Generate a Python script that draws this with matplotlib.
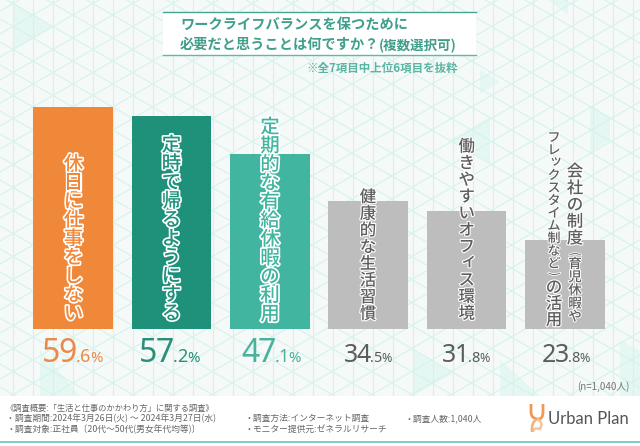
import numpy as np
import matplotlib
matplotlib.use('Agg')
import matplotlib.pyplot as plt
import matplotlib.patheffects as pe
from matplotlib.collections import LineCollection
from matplotlib.patches import Rectangle, PathPatch, Polygon
from matplotlib.path import Path

plt.rcParams['font.family'] = ['Noto Sans CJK JP', 'DejaVu Sans']

W, H = 640, 446
PX = 0.72  # px -> pt at dpi 100

values = [59.6, 57.2, 47.1, 34.5, 31.8, 23.8]
bar_colors = ['#f0883a', '#1f917b', '#42b5a0', '#bdbdbd', '#bdbdbd', '#bdbdbd']
value_colors = ['#e98b48', '#2a8f7a', '#48b29c', '#5c5c5c', '#5c5c5c', '#5c5c5c']
label_colors = ['#f0883a', '#1f917b', '#42b5a0', '#5e5e5e', '#5e5e5e', '#5e5e5e']
labels = ['休日に仕事をしない', '定時で帰るようにする', '定期的な有給休暇の利用',
          '健康的な生活習慣', '働きやすいオフィス環境']
label_last = [('会社の制度', '育児休暇や'), ('フレックスタイム制など', 'の活用')]
title_1 = 'ワークライフバランスを保つために'
title_2 = '必要だと思うことは何ですか？'
title_sub = '(複数選択可)'
note = '※全7項目中上位6項目を抜粋'
n_note = '(n=1,040人)'
foot_left = ['《調査概要:「生活と仕事のかかわり方」に関する調査》',
             '・調査期間:2024年3月26日(火) ～ 2024年3月27日(水)',
             '・調査対象:正社員〔20代～50代(男女年代均等)〕']
foot_mid = ['・調査方法:インターネット調査', '・モニター提供元:ゼネラルリサーチ']
foot_right = '・調査人数:1,040人'

fig = plt.figure(figsize=(W / 100, H / 100), dpi=100)

# 背景（ピクセル座標）
bg = fig.add_axes([0, 0, 1, 1], zorder=0)
bg.set_xlim(0, W); bg.set_ylim(H, 0); bg.axis('off')
bg.add_patch(Rectangle((0, 0), W, H, color='#f5f9f8', lw=0))
# 淡い三角パッチ
for tri in [[(13, 3), (33, 15), (33, 38), (13, 50)], [(33, 15), (53, 27), (33, 38)],
            [(413, 350), (453, 373), (413, 396)], [(548, 0), (568, 0), (568, 15)],
            [(480, 70), (500, 82), (480, 94)], [(590, 105), (610, 117), (610, 140), (590, 152)],
            [(450, 140), (490, 117), (490, 163)], [(40, 350), (80, 396), (40, 396)],
            [(500, 360), (540, 396), (500, 396)], [(620, 340), (640, 351), (640, 396), (620, 396)]]:
    bg.add_patch(Polygon(tri, closed=True, color='#e4f7f2', lw=0))
lat = []
for x in range(13 - 20, W + 20, 20):
    lat.append([(x, 0), (x, H)])
for k in range(-40, 60):
    y0 = 15 + 23 * k
    lat.append([(33 - 700, y0 - 700 * 0.577), (33 + 700, y0 + 700 * 0.577)])
    lat.append([(33 - 700, y0 + 700 * 0.577), (33 + 700, y0 - 700 * 0.577)])
bg.add_collection(LineCollection(lat, colors='#d5f3ec', linewidths=0.8))

# 棒グラフ本体
ax = fig.add_axes([0, 0, 1, 1], zorder=1)
ax.patch.set_alpha(0)
ax.axis('off')
x0, pitch, scale, base = 73, 98.35, 3.72, 329
ax.set_xlim(-x0 / pitch, (W - x0) / pitch)
ax.set_ylim((base - H) / scale, base / scale)
xs = np.arange(len(values))
ax.bar(xs, values, width=0.81, color=bar_colors, edgecolor='none')

# 文字（ピクセル座標）
tx = fig.add_axes([0, 0, 1, 1], zorder=2)
tx.patch.set_alpha(0)
tx.set_xlim(0, W); tx.set_ylim(H, 0); tx.axis('off')

SMALL_KANA = 'ィッ'


def vtext(s, x, y_first, step, size_px, color, weight='medium', stroke=1.6):
    """1文字ずつ縦に積む。y_first は先頭文字の中心"""
    for i, ch in enumerate(s):
        # 小書きは右上へ、括弧は横倒し
        dx = dy = 0
        rot = 0
        if ch in SMALL_KANA:
            dx, dy = 0.15 * size_px, -0.15 * size_px
        if ch in '()':
            rot = -90
        t = tx.text(x + dx, y_first + i * step + dy, ch, ha='center', va='center',
                    rotation=rot, fontsize=size_px * PX, color=color, fontweight=weight, zorder=5)
        t.set_path_effects([pe.withStroke(linewidth=stroke, foreground='white')])


def tight_num(s, xp, y, size_px, color, weight, align='left'):
    """詰め組み：1文字ずつ置く。戻り値は右端"""
    adv = {'.': 0.26, '%': 0.84}
    widths = [adv.get(c, 0.51) * size_px for c in s]
    cur = xp - sum(widths) if align == 'right' else xp
    for c, wd in zip(s, widths):
        tx.text(cur + wd / 2, y, c, ha='center', va='baseline', family=['Noto Sans', 'DejaVu Sans'],
                fontsize=size_px * PX, color=color, fontweight=weight)
        cur += wd
    return cur


# 上位3つ
vtext(labels[0], 73.5, 164, 18.7, 19.5, label_colors[0], stroke=2.4)
vtext(labels[1], 171.5, 145, 18.7, 19.5, label_colors[1], stroke=2.4)
vtext(labels[2], 270, 127, 18.7, 19.5, label_colors[2], stroke=2.4)
vtext(labels[3], 368, 197.5, 16.7, 16.5, label_colors[3])
vtext(labels[4], 466.7, 147, 16.7, 16.5, label_colors[4])
# 6番目は2列
vtext(label_last[0][0], 575, 172, 16.7, 16.5, label_colors[5])
vtext('(', 575, 254, 0, 12, label_colors[5], weight='regular', stroke=1.2)
vtext(label_last[0][1], 575, 264, 13.2, 13.5, label_colors[5], stroke=1.4)
vtext(label_last[1][0], 554, 138, 12.6, 13, label_colors[5], stroke=1.4)
vtext(')', 554, 274, 0, 12, label_colors[5], weight='regular', stroke=1.2)
vtext(label_last[1][1], 554, 288, 16.2, 16.5, label_colors[5])

# 値ラベル（整数部は大きく、小数部は小さく）
splits = [3, 1.5, 5, 2, 1.5, 3.5]
for i, v in enumerate(values):
    big, small = f'{v:.1f}'.split('.')
    top3 = i < 3
    xp = x0 + pitch * i + splits[i]
    tight_num(big, xp, 362, 32 if top3 else 25, value_colors[i],
              'medium' if top3 else 'normal', align='right')
    end = tight_num(f'.{small}', xp, 362, 18 if top3 else 14.5, value_colors[i], 'normal')
    tight_num('%', end, 362, 15 if top3 else 12.5, value_colors[i], 'normal')

# タイトル枠
tx.add_patch(Rectangle((163, 11.5), 313, 43, color='white', lw=0))
tx.plot([163, 476], [11.5, 11.5], color='#45a592', lw=1.0)
tx.plot([163, 476], [54.5, 54.5], color='#5fb9a6', lw=1.0)
tc = '#3f9f8a'
tx.text(180, 24.5, title_1, fontsize=14.2 * PX, color=tc, fontweight='bold', va='center')
tx.text(180, 45, title_2, fontsize=14.2 * PX, color=tc, fontweight='bold', va='center')
tx.text(379, 45.5, title_sub, fontsize=13.5 * PX, color=tc, fontweight='bold', va='center')
tx.text(458, 68.5, note, fontsize=11.5 * PX, color='#5ab5a2', fontweight='bold', va='center', ha='right')
tx.text(629, 387, n_note, fontsize=9.8 * PX, color='#777777', va='center', ha='right')

# フッター
tx.add_patch(Rectangle((0, 396), W, 50, color='white', lw=0))
tx.add_patch(Rectangle((0, 440.5), W, 2.8, color='#82cfc0', lw=0))
fc = '#666666'
for s, y, fs in zip(foot_left, [408, 418.5, 429], [8.3, 8.8, 8.8]):
    tx.text(6, y, s, fontsize=fs * PX, color=fc, va='center')
for s, y in zip(foot_mid, [418.5, 429]):
    tx.text(245, y, s, fontsize=8.8 * PX, color=fc, va='center')
tx.text(405, 418.5, foot_right, fontsize=8.8 * PX, color=fc, va='center')

# ロゴ
tx.text(548, 418.5, 'Urban Plan', family=['Lato', 'DejaVu Sans'], fontsize=16.6 * PX,
        color='#555555', va='center')
u = Path([(531, 404), (531, 412), (531, 418), (537, 419), (543, 420), (543, 412), (543, 404)],
         [Path.MOVETO, Path.LINETO, Path.CURVE3, Path.CURVE3, Path.CURVE3, Path.CURVE3, Path.LINETO])
lo = Path([(537, 419), (544, 422), (540, 429), (533, 427), (533, 432)],
          [Path.MOVETO, Path.CURVE3, Path.CURVE3, Path.CURVE3, Path.CURVE3])
tail = Path([(537, 419), (531, 422), (532, 432)], [Path.MOVETO, Path.CURVE3, Path.CURVE3])
tx.add_patch(PathPatch(u, fc='none', ec='#ee9a55', lw=2.0))
tx.add_patch(PathPatch(lo, fc='none', ec='#f6c49a', lw=1.8))
tx.add_patch(PathPatch(tail, fc='none', ec='#f2b07a', lw=1.8))

fig.savefig('out.png', dpi=100)
